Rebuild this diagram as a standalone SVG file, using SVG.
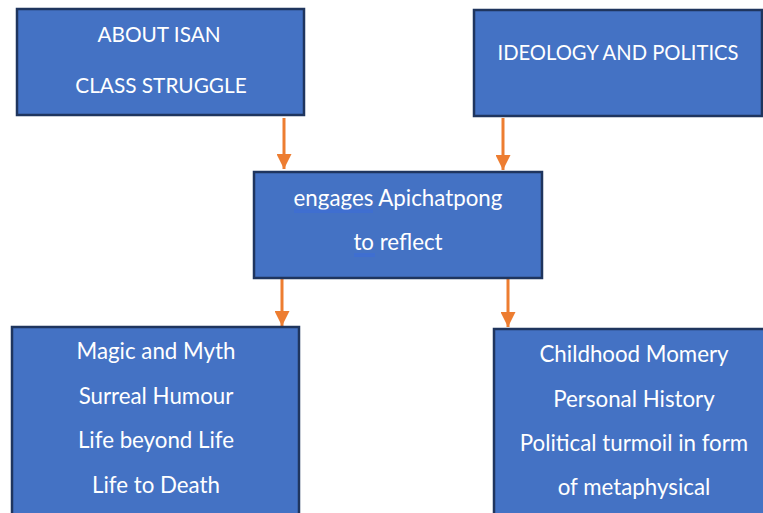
<svg xmlns="http://www.w3.org/2000/svg" width="763" height="513" viewBox="0 0 763 513">
<style>
.box{fill:#4472C4;stroke:#1F355E;stroke-width:2.5}
.t{font-family:Lato,"Open Sans","Liberation Sans",sans-serif;font-size:22.3px;fill:#FFFFFF;text-anchor:middle}
.u{font-size:20.8px}
.v{font-size:20.2px}
.c{stroke:#ED7D31;stroke-width:3;fill:none}
.sp{stroke:#3A6BE0;stroke-width:0.9}
</style>
<defs>
<marker id="ah" viewBox="0 0 10 10" refX="10" refY="5" markerWidth="5" markerHeight="5" markerUnits="strokeWidth" orient="auto">
<path d="M0,0 L10,5 L0,10 z" fill="#ED7D31"/>
</marker>
</defs>
<rect width="763" height="513" fill="#FFFFFF"/>
<g id="connectors">
<line class="c" x1="284" y1="118" x2="284" y2="169" marker-end="url(#ah)"/>
<line class="c" x1="503" y1="118" x2="503" y2="170" marker-end="url(#ah)"/>
<line class="c" x1="282" y1="279" x2="282" y2="326" marker-end="url(#ah)"/>
<line class="c" x1="508" y1="279" x2="508" y2="327" marker-end="url(#ah)"/>
</g>
<g id="about-isan">
<rect class="box" x="17" y="9" width="287" height="106"/>
<text class="t u" x="159" y="42">ABOUT ISAN</text>
<text class="t u" x="161" y="93">CLASS STRUGGLE</text>
</g>
<g id="ideology">
<rect class="box" x="474" y="10" width="288" height="106"/>
<text class="t v" x="618" y="60">IDEOLOGY AND POLITICS</text>
</g>
<g id="engages">
<rect class="box" x="254" y="172" width="288" height="106"/>
<text class="t" x="398" y="206">engages Apichatpong</text>
<text class="t" x="398" y="250">to reflect</text>
<line class="sp" x1="294" y1="210" x2="373" y2="210"/>
<line class="sp" x1="294" y1="212" x2="373" y2="212"/>
<line class="sp" x1="354" y1="254" x2="375" y2="254"/>
<line class="sp" x1="354" y1="256" x2="375" y2="256"/>
</g>
<g id="magic">
<rect class="box" x="12" y="327" width="287" height="200"/>
<text class="t" x="156" y="359">Magic and Myth</text>
<text class="t" x="156" y="404">Surreal Humour</text>
<text class="t" x="156" y="448">Life beyond Life</text>
<text class="t" x="156" y="493">Life to Death</text>
</g>
<g id="childhood">
<rect class="box" x="494" y="329" width="290" height="200"/>
<text class="t" x="634" y="362">Childhood Momery</text>
<text class="t" x="634" y="407">Personal History</text>
<text class="t" x="634" y="451">Political turmoil in form</text>
<text class="t" x="634" y="495">of metaphysical</text>
</g>
</svg>
